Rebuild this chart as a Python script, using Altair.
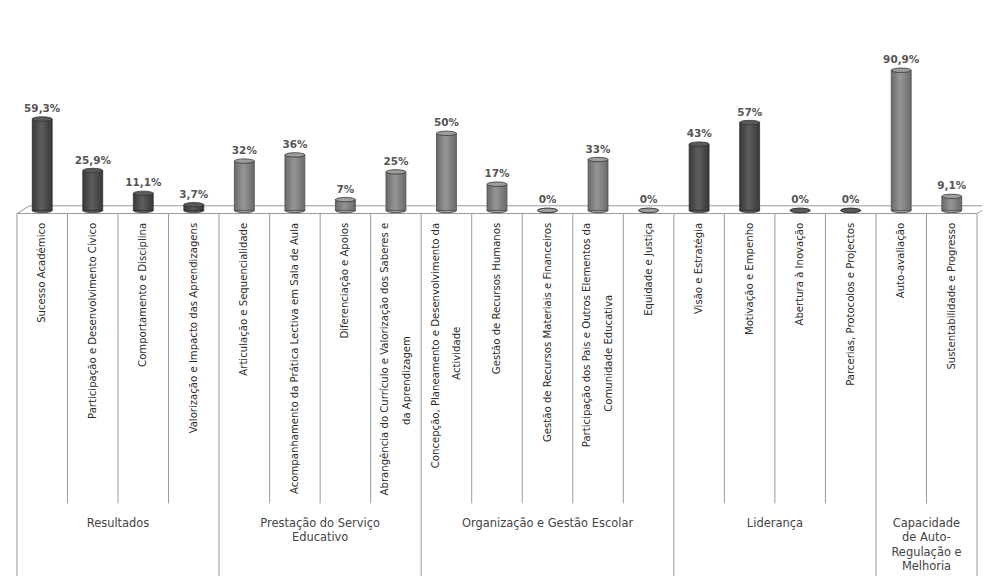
import altair as alt
import pandas as pd

# ---------------- data ----------------
cat_line1 = [
    "Sucesso Académico",
    "Participação e Desenvolvimento Cívico",
    "Comportamento e Disciplina",
    "Valorização e Impacto das Aprendizagens",
    "Articulação e Sequencialidade",
    "Acompanhamento da Prática Lectiva em Sala de Aula",
    "Diferenciação e Apoios",
    "Abrangência do Currículo e Valorização dos Saberes e",
    "Concepção, Planeamento e Desenvolvimento da",
    "Gestão de Recursos Humanos",
    "Gestão de Recursos Materiais e Financeiros",
    "Participação dos Pais e Outros Elementos da",
    "Equidade e Justiça",
    "Visão e Estratégia",
    "Motivação e Empenho",
    "Abertura à Inovação",
    "Parcerias, Protocolos e Projectos",
    "Auto-avaliação",
    "Sustentabilidade e Progresso",
]
cat_line2 = ["", "", "", "", "", "", "", "da Aprendizagem",
             "Actividade", "", "", "Comunidade Educativa", "",
             "", "", "", "", "", ""]
values = [59.3, 25.9, 11.1, 3.7, 32, 36, 7, 25, 50, 17, 0, 33, 0,
          43, 57, 0, 0, 90.9, 9.1]
value_labels = ["59,3%", "25,9%", "11,1%", "3,7%", "32%", "36%", "7%", "25%",
                "50%", "17%", "0%", "33%", "0%", "43%", "57%", "0%", "0%",
                "90,9%", "9,1%"]
group_names = ["Resultados", "Prestação do Serviço\nEducativo",
               "Organização e Gestão Escolar", "Liderança",
               "Capacidade\nde Auto-\nRegulação e\nMelhoria"]
group_sizes = [4, 4, 5, 4, 2]
dark_groups = ["Resultados", "Liderança"]

# ---------------- tables ----------------
rows = []
i = 0
for g, n in zip(group_names, group_sizes):
    for _ in range(n):
        rows.append(dict(idx=i, xc=i + 0.5, l1=cat_line1[i], l2=cat_line2[i],
                         value=values[i], label=value_labels[i], group=g,
                         shade="dark" if g in dark_groups else "light"))
        i += 1
df = pd.DataFrame(rows)
N = len(df)

LABEL_TOP = -8          # top of rotated category labels (data units)
PX_PER_UNIT = 1.55
CHAR_PX = 6.1
LINE_SHIFT = 0.21       # half the gap between two label lines (category units)
df["y_l1"] = LABEL_TOP
df["y_l2"] = LABEL_TOP - df["l1"].str.len() * CHAR_PX / 2 / PX_PER_UNIT
two = df["l2"] != ""
df["x_l1"] = df["xc"] - two * LINE_SHIFT
df["x_l2"] = df["xc"] + two * LINE_SHIFT

# group table
gstart = [sum(group_sizes[:k]) for k in range(len(group_sizes))]
gdf = pd.DataFrame(dict(name=group_names, xc=[s + n / 2 for s, n in zip(gstart, group_sizes)]))

# frame / floor segments (data units derived from category counts)
FRONT, BACK, CELL_BOTTOM, BOTTOM = -2, 3, -190, -245
bounds = set(gstart + [N])
segs = [
    dict(x=0.25, x2=N + 0.25, y=BACK, y2=BACK),
    dict(x=0, x2=N, y=FRONT, y2=FRONT),
    dict(x=0, x2=0.25, y=FRONT, y2=BACK),
    dict(x=N, x2=N + 0.25, y=FRONT, y2=BACK),
]
for b in range(N + 1):
    segs.append(dict(x=b, x2=b, y=FRONT, y2=BOTTOM if b in bounds else CELL_BOTTOM))
sdf = pd.DataFrame(segs)

# ---------------- scales ----------------
xs = alt.Scale(domain=[0, N], nice=False, zero=False)
ys = alt.Scale(domain=[-240, 100], nice=False, zero=False)
X = alt.X("xc:Q", scale=xs, axis=None)

ellipse = "M -1 0 A 1 0.22 0 1 0 1 0 A 1 0.22 0 1 0 -1 0 Z"
shade_color = alt.Color("shade:N", scale=alt.Scale(domain=["dark", "light"],
                        range=["#5a5a5a", "#9e9e9e"]), legend=None)

def grad(edge, mid):
    return alt.Gradient(gradient="linear",
                        stops=[alt.GradientStop(color=edge, offset=0),
                               alt.GradientStop(color=mid, offset=0.45),
                               alt.GradientStop(color=edge, offset=1)],
                        x1=0, x2=1, y1=0, y2=0)

rules = alt.Chart(sdf).mark_rule(color="#9a9a9a", strokeWidth=1).encode(
    x=alt.X("x:Q", scale=xs, axis=None), x2="x2:Q",
    y=alt.Y("y:Q", scale=ys, axis=None), y2="y2:Q")

bottom_caps = alt.Chart(df).mark_point(shape=ellipse, size=400, filled=True, opacity=1,
                                       stroke="#333333", strokeWidth=0.8).encode(
    x=X, y=alt.Y("zero:Q", scale=ys, axis=None), color=shade_color
).transform_calculate(zero="0")

bars_dark = alt.Chart(df[df.shade == "dark"]).mark_bar(
    size=20, color=grad("#383838", "#5e5e5e"), stroke="#2e2e2e", strokeWidth=0.8).encode(
    x=X, y=alt.Y("value:Q", scale=ys, axis=None), y2=alt.datum(0))
bars_light = alt.Chart(df[df.shade == "light"]).mark_bar(
    size=20, color=grad("#6a6a6a", "#969696"), stroke="#4a4a4a", strokeWidth=0.8).encode(
    x=X, y=alt.Y("value:Q", scale=ys, axis=None), y2=alt.datum(0))

top_caps = alt.Chart(df).mark_point(shape=ellipse, size=400, filled=True, opacity=1,
                                    stroke="#333333", strokeWidth=0.8).encode(
    x=X, y=alt.Y("value:Q", scale=ys, axis=None), color=shade_color)

value_text = alt.Chart(df).mark_text(font="DejaVu Sans", fontSize=10.5, fontWeight="bold",
                                     color="#555555", baseline="bottom", dy=-5).encode(
    x=X, y=alt.Y("value:Q", scale=ys, axis=None), text="label:N")

CAT_FONT = "DejaVu Sans Condensed"
CAT_SIZE = 11.3
double = df[df.l2 != ""]
cat_l1 = alt.Chart(df).mark_text(font=CAT_FONT, fontSize=CAT_SIZE, color="#2a2a2a",
                                 angle=270, align="right", baseline="middle").encode(
    x=alt.X("x_l1:Q", scale=xs, axis=None), y=alt.Y("y_l1:Q", scale=ys, axis=None), text="l1:N")
cat_l2 = alt.Chart(double).mark_text(font=CAT_FONT, fontSize=CAT_SIZE, color="#2a2a2a",
                                     angle=270, align="center", baseline="middle").encode(
    x=alt.X("x_l2:Q", scale=xs, axis=None), y=alt.Y("y_l2:Q", scale=ys, axis=None), text="l2:N")

group_text = alt.Chart(gdf).mark_text(font="DejaVu Sans", fontSize=11.5, color="#444444",
                                      baseline="top", align="center", lineBreak="\n",
                                      lineHeight=14.5).encode(
    x=X, y=alt.Y("gy:Q", scale=ys, axis=None), text="name:N"
).transform_calculate(gy="-199.5")

chart = alt.layer(rules, bottom_caps, bars_light, bars_dark, top_caps, value_text,
                  cat_l1, cat_l2, group_text).properties(
    width=975, height=527,
    padding={"left": 4, "top": 47, "right": 0, "bottom": 0},
    autosize=alt.AutoSizeParams(type="none"),
    background="white",
).configure_view(stroke=None)

chart.save("out.html", embed_options={"renderer": "svg", "actions": False})
